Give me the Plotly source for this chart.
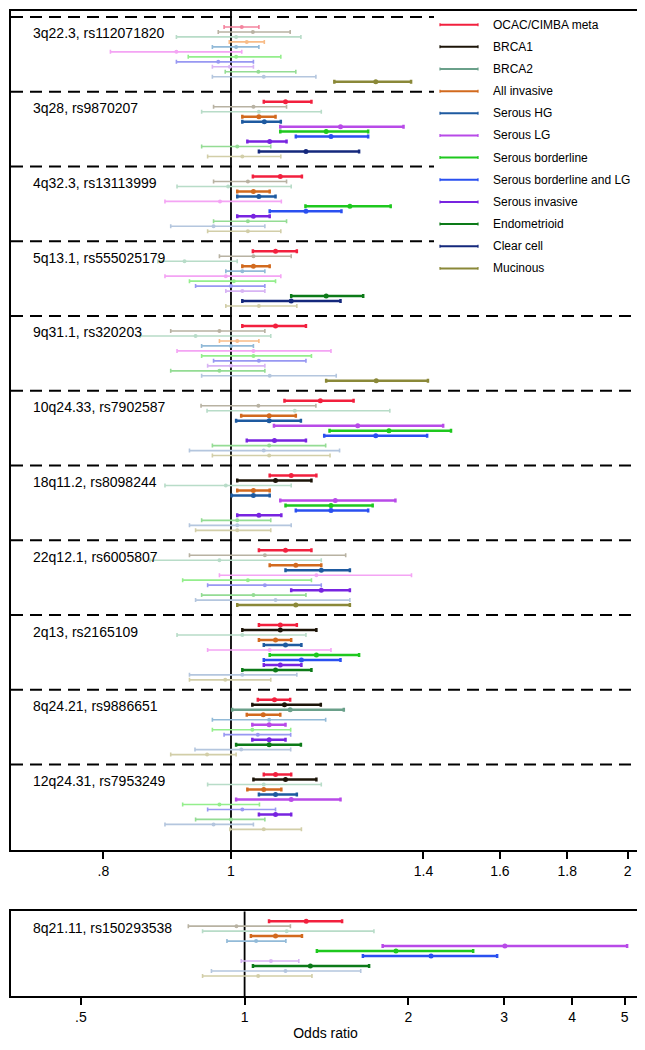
import plotly.graph_objects as go

# ---------------- data ----------------
subgroups = ["OCAC/CIMBA meta", "BRCA1", "BRCA2", "All invasive", "Serous HG", "Serous LG",
             "Serous borderline", "Serous borderline and LG", "Serous invasive", "Endometrioid",
             "Clear cell", "Mucinous"]
colors_full = ["#f2203e", "#1c1408", "#6aa08a", "#d26a1e", "#1e5aa0", "#b84ae8",
               "#1ec81e", "#2a50f0", "#7824e0", "#0c7a18", "#14287c", "#8a8838"]
colors_faded = ["#f4849e", "#b8b2a2", "#b8dcc8", "#f8bc88", "#92bad8", "#f4a4f4",
                "#94ee8c", "#9898f2", "#d8b4f4", "#94dc94", "#b4c6de", "#d2cea8"]

# (odds ratio, lower 95% CI, upper 95% CI), rows in subgroup order
or_3q22_3 = [(1.019, 0.988, 1.050), (1.039, 0.978, 1.109), (1.009, 0.909, 1.130), (1.028, 0.997, 1.060),
             (1.009, 0.968, 1.050), (0.909, 0.810, 1.019), (1.009, 0.928, 1.091), (0.978, 0.909, 1.040),
             (0.998, 0.968, 1.040), (1.049, 0.990, 1.120), (1.059, 0.968, 1.160), (1.288, 1.198, 1.370)]
or_3q28 = [(1.100, 1.059, 1.151), (1.040, 0.970, 1.102), (1.050, 0.950, 1.171), (1.050, 1.020, 1.081),
           (1.060, 1.020, 1.091), (1.211, 1.090, 1.352), (1.181, 1.090, 1.271), (1.191, 1.120, 1.271),
           (1.070, 1.029, 1.102), (1.011, 0.950, 1.072), (1.140, 1.050, 1.251), (1.020, 0.960, 1.091)]
or_4q32_3 = [(1.090, 1.039, 1.132), (1.030, 0.970, 1.102), (0.995, 0.910, 1.111), (1.040, 1.011, 1.070),
             (1.050, 1.011, 1.081), (0.981, 0.891, 1.092), (1.231, 1.139, 1.322), (1.140, 1.070, 1.213),
             (1.040, 1.011, 1.070), (1.030, 0.970, 1.102), (0.970, 0.900, 1.061), (1.030, 0.960, 1.091)]
or_5q13_1 = [(1.081, 1.039, 1.122), (1.040, 0.980, 1.111), (0.922, 0.880, 1.011), (1.040, 1.020, 1.070),
             (1.020, 0.991, 1.061), (0.991, 0.891, 1.091), (1.005, 0.930, 1.081), (1.000, 0.940, 1.061),
             (1.020, 0.991, 1.061), (1.181, 1.111, 1.260), (1.111, 1.020, 1.211), (1.050, 0.991, 1.122)]
or_9q31_1 = [(1.081, 1.020, 1.140), (0.980, 0.900, 1.061), (0.940, 0.853, 1.072), (1.011, 0.980, 1.050),
             (1.000, 0.950, 1.040), (1.040, 0.910, 1.191), (1.040, 0.950, 1.151), (1.050, 0.970, 1.140),
             (1.000, 0.960, 1.061), (0.980, 0.900, 1.061), (1.070, 0.950, 1.202), (1.289, 1.181, 1.411)]
or_10q24_33 = [(1.169, 1.098, 1.239), (1.049, 0.949, 1.160), (1.118, 0.959, 1.320), (1.069, 1.018, 1.120),
               (1.069, 1.009, 1.130), (1.248, 1.078, 1.449), (1.318, 1.188, 1.469), (1.288, 1.177, 1.409),
               (1.079, 1.028, 1.140), (1.069, 0.968, 1.180), (1.059, 0.930, 1.209), (1.069, 0.968, 1.189)]
or_18q11_2 = [(1.111, 1.070, 1.161), (1.081, 1.011, 1.151), (0.991, 0.891, 1.111), (1.040, 1.011, 1.070),
              (1.040, 1.001, 1.070), (1.200, 1.090, 1.333), (1.191, 1.100, 1.281), (1.191, 1.120, 1.271),
              (1.050, 1.011, 1.092), (1.011, 0.950, 1.072), (1.011, 0.930, 1.111), (1.011, 0.940, 1.072)]
or_22q12_1 = [(1.100, 1.050, 1.151), (1.061, 0.930, 1.222), (0.980, 0.868, 1.171), (1.120, 1.070, 1.171),
              (1.171, 1.100, 1.231), (1.161, 0.980, 1.371), (1.030, 0.919, 1.151), (1.061, 0.960, 1.171),
              (1.171, 1.111, 1.231), (1.040, 0.950, 1.140), (1.081, 0.940, 1.231), (1.120, 1.011, 1.231)]
or_2q13 = [(1.090, 1.050, 1.122), (1.090, 1.020, 1.161), (1.020, 0.910, 1.140), (1.081, 1.050, 1.111),
           (1.100, 1.059, 1.131), (1.070, 0.960, 1.191), (1.161, 1.070, 1.251), (1.131, 1.059, 1.211),
           (1.090, 1.059, 1.131), (1.081, 1.020, 1.151), (1.020, 0.930, 1.122), (0.990, 0.930, 1.072)]
or_8q24_21 = [(1.079, 1.048, 1.109), (1.098, 1.038, 1.170), (1.109, 1.002, 1.218), (1.058, 1.028, 1.090),
              (1.069, 0.968, 1.180), (1.069, 1.038, 1.100), (1.038, 0.968, 1.110), (1.048, 0.988, 1.110),
              (1.069, 1.038, 1.100), (1.069, 1.009, 1.130), (1.018, 0.939, 1.110), (0.959, 0.900, 1.009)]
or_12q24_31 = [(1.081, 1.059, 1.111), (1.100, 1.040, 1.161), (1.059, 0.960, 1.171), (1.059, 1.029, 1.092),
               (1.081, 1.050, 1.122), (1.111, 1.009, 1.211), (0.980, 0.919, 1.051), (1.020, 0.960, 1.081),
               (1.081, 1.050, 1.111), (1.000, 0.940, 1.061), (0.970, 0.891, 1.040), (1.059, 0.998, 1.131)]
or_8q21_11 = [(1.298, 1.109, 1.511), (0.966, 0.788, 1.214), (1.195, 0.837, 1.729), (1.140, 1.027, 1.275),
              (1.050, 0.928, 1.191), (3.010, 1.794, 5.050), (1.898, 1.358, 2.632), (2.202, 1.650, 2.913),
              (1.118, 0.986, 1.258), (1.321, 1.036, 1.694), (1.189, 0.869, 1.635), (1.059, 0.837, 1.330)]

loci_top = ["3q22.3, rs112071820", "3q28, rs9870207", "4q32.3, rs13113999", "5q13.1, rs555025179",
            "9q31.1, rs320203", "10q24.33, rs7902587", "18q11.2, rs8098244", "22q12.1, rs6005807",
            "2q13, rs2165109", "8q24.21, rs9886651", "12q24.31, rs7953249"]
data_top = [or_3q22_3, or_3q28, or_4q32_3, or_5q13_1, or_9q31_1, or_10q24_33, or_18q11_2,
            or_22q12_1, or_2q13, or_8q24_21, or_12q24_31]
loci_bottom = ["8q21.11, rs150293538"]
data_bottom = [or_8q21_11]

top_ticks = [0.8, 1, 1.4, 1.6, 1.8, 2]
top_ticktext = [".8", "1", "1.4", "1.6", "1.8", "2"]
bottom_ticks = [0.5, 1, 2, 3, 4, 5]
bottom_ticktext = [".5", "1", "2", "3", "4", "5"]

# ---------------- figure ----------------
FONT = "Liberation Sans, Arial, Helvetica, sans-serif"
OFF = 8                      # default page margin around the plot div
W, H = 645 - OFF, 1050 - OFF
PLOT_L, PLOT_R, PLOT_T, PLOT_B = 11, 640, 8, 996   # plot box in page pixels
ML = PLOT_L - OFF
MR = W - (PLOT_R - OFF)
MT = PLOT_T - OFF + 1
MB = H - (PLOT_B - OFF)
PW = W - ML - MR
PH = H - MT - MB
BLOCK = 15


def py_to_paper(py):
    return (PLOT_B - py) / PH


def px_to_paper(px):
    return (px - PLOT_L) / PW


fig = go.Figure()
shapes = []
annotations = []


def add_panel(loci, data, xa, ya, yrange):
    groups = {}
    for k, (name, rows) in enumerate(zip(loci, data)):
        base = k * BLOCK
        annotations.append(dict(text=name, xref=xa + " domain", x=px_to_paper(31),
                                xanchor="left", yref=ya, y=base + 3.3, yanchor="middle",
                                showarrow=False, font=dict(family=FONT, size=14, color="black")))
        for i, (est, lo, hi) in enumerate(rows):
            sig = lo > 1 or hi < 1
            g = groups.setdefault((i, sig), dict(x=[], y=[], p=[], m=[]))
            g["x"].append(est)
            g["y"].append(base + 2 + i)
            g["p"].append(hi - est)
            g["m"].append(est - lo)
    # reference line at OR = 1
    fig.add_trace(go.Scatter(x=[1, 1], y=list(yrange), mode="lines", xaxis=xa, yaxis=ya,
                             line=dict(color="black", width=1.8), showlegend=False, hoverinfo="skip"))
    for (i, sig), g in sorted(groups.items(), key=lambda t: (t[0][1], t[0][0])):
        col = colors_full[i] if sig else colors_faded[i]
        fig.add_trace(go.Scatter(
            x=g["x"], y=g["y"], mode="markers", xaxis=xa, yaxis=ya,
            marker=dict(color=col, size=5 if sig else 4),
            error_x=dict(type="data", symmetric=False, array=g["p"], arrayminus=g["m"],
                         color=col, thickness=2.5 if sig else 1.6, width=2),
            name=subgroups[i], showlegend=False))


add_panel(loci_top, data_top, "x", "y", (-1.2, 167.2))
add_panel(loci_bottom, data_bottom, "x2", "y2", (0, 17))

# dashed separators between loci (top panel)
for k in range(len(loci_top)):
    shapes.append(dict(type="line", xref="x domain", x0=0, x1=1, yref="y", y0=k * BLOCK, y1=k * BLOCK,
                       line=dict(color="black", width=2, dash="12px,7px")))

# legend (drawn manually)
shapes.append(dict(type="rect", xref="paper", yref="paper", x0=px_to_paper(434), x1=px_to_paper(638),
                   y0=py_to_paper(284), y1=py_to_paper(10), fillcolor="white", line=dict(width=0)))
for i, name in enumerate(subgroups):
    yc = py_to_paper(22.7 + 22.2 * i)
    shapes.append(dict(type="line", xref="paper", yref="paper", x0=px_to_paper(440), x1=px_to_paper(478),
                       y0=yc, y1=yc, line=dict(color=colors_full[i], width=2)))
    for xe in (440, 478):
        shapes.append(dict(type="line", xref="paper", yref="paper", x0=px_to_paper(xe), x1=px_to_paper(xe),
                           y0=yc - 1.5 / PH, y1=yc + 1.5 / PH, line=dict(color=colors_full[i], width=1.2)))
    annotations.append(dict(text=name, xref="paper", yref="paper", x=px_to_paper(491), y=yc,
                            xanchor="left", yanchor="middle", showarrow=False,
                            font=dict(family=FONT, size=12, color="black")))

top_dom = [py_to_paper(850), 1.0]
bot_dom = [0.0, py_to_paper(911)]

axis_common = dict(showline=True, linewidth=2, linecolor="black", mirror=True, showgrid=False,
                   zeroline=False)

fig.update_layout(
    width=W, height=H,
    margin=dict(l=ML, r=MR, t=MT, b=MB, pad=0),
    paper_bgcolor="white", plot_bgcolor="white",
    font=dict(family=FONT, size=14, color="black"),
    showlegend=False,
    xaxis=dict(domain=[0, 1], anchor="y", type="log",
               range=[-0.1670, 0.3105], tickvals=top_ticks, ticktext=top_ticktext,
               ticks="outside", ticklen=7, tickwidth=1.5, tickcolor="black",
               tickfont=dict(family=FONT, size=14), **axis_common),
    yaxis=dict(domain=top_dom, anchor="x", range=[167.2, -1.2], showticklabels=False, ticks="",
               **axis_common),
    xaxis2=dict(domain=[0, 1], anchor="y2", type="log",
                range=[-0.4295, 0.727], tickvals=bottom_ticks, ticktext=bottom_ticktext,
                ticks="outside", ticklen=7, tickwidth=1.5, tickcolor="black",
                tickfont=dict(family=FONT, size=14),
                title=dict(text="Odds ratio", font=dict(family=FONT, size=14), standoff=4),
                **axis_common),
    yaxis2=dict(domain=bot_dom, anchor="x2", range=[17, 0], showticklabels=False, ticks="",
                **axis_common),
    shapes=shapes,
    annotations=annotations,
)

fig.write_html("out.html")
